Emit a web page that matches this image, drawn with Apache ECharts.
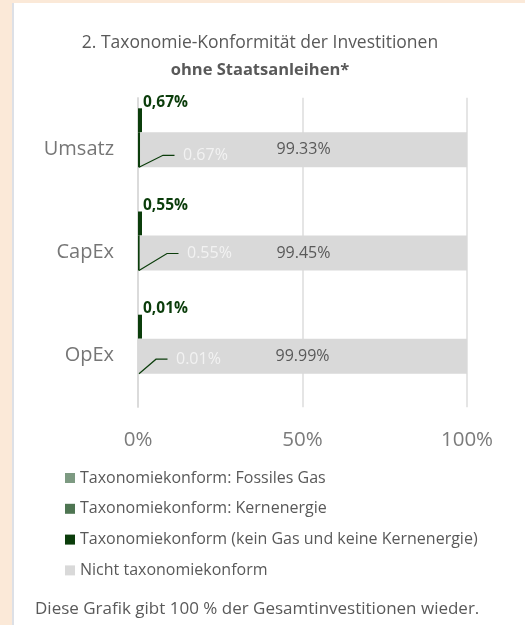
<!DOCTYPE html>
<html>
<head>
<meta charset="utf-8">
<title>Taxonomie-Konformität der Investitionen</title>
<script src="https://cdn.jsdelivr.net/npm/echarts@6/dist/echarts.min.js"></script>
<style>
  html, body { margin: 0; padding: 0; background: #fbe9d8; }
  #panel {
    position: absolute; left: 12px; top: 3px; width: 513px; height: 622px;
    background: #fff; border-left: 2px solid #dde0e6; box-sizing: border-box;
  }
  #chart { position: absolute; left: 0; top: 0; width: 525px; height: 625px; }
</style>
</head>
<body>
<div id="panel"></div>
<div id="chart"></div>
<script>
var categories = ['Umsatz', 'CapEx', 'OpEx'];
var fossilGas = [0, 0, 0];
var nuclear = [0, 0, 0];
var aligned = [0.67, 0.55, 0.01];
var notAligned = [99.33, 99.45, 99.99];
var seriesNames = [
  'Taxonomiekonform: Fossiles Gas',
  'Taxonomiekonform: Kernenergie',
  'Taxonomiekonform (kein Gas und keine Kernenergie)',
  'Nicht taxonomiekonform'
];

// hand placed leader labels in the grey bars: [dx from 0%, dy from bar centre]
var leaderShift = [[45, 6], [49, 1], [38, 3.5]];

var font = '"Open Sans", "Noto Sans", sans-serif';
var grey = '#595959';
var dark = '#0b3d0b';

function pct(v) {
  return v.toFixed(2) + '%';
}

var chart = echarts.init(document.getElementById('chart'));

var option = {
  animation: false,
  textStyle: { fontFamily: font },
  title: [{
    text: '{a|2. Taxonomie-Konformität der Investitionen}\n{b|ohne Staatsanleihen*}',
    left: 260,
    top: 29.5,
    padding: 0,
    textAlign: 'center',
    textStyle: {
      fontWeight: 'normal',
      rich: {
        a: { fontFamily: font, fontSize: 17.5, fontWeight: 'normal', color: grey, lineHeight: 27 },
        b: { fontFamily: font, fontSize: 16.5, fontWeight: 'bold', color: grey, lineHeight: 27 }
      }
    }
  }, {
    text: 'Diese Grafik gibt 100 % der Gesamtinvestitionen wieder.',
    left: 35,
    top: 599,
    padding: 0,
    textStyle: { fontFamily: font, fontSize: 17, fontWeight: 'normal', color: grey, lineHeight: 20 }
  }],
  legend: {
    orient: 'vertical',
    left: 65,
    top: 468,
    padding: 0,
    itemWidth: 10,
    itemHeight: 10,
    itemGap: 10.8,
    icon: 'rect',
    selectedMode: false,
    data: seriesNames,
    textStyle: { fontFamily: font, fontSize: 16, color: grey, lineHeight: 20 }
  },
  grid: { left: 138, right: 58, top: 97.7, bottom: 217.7 },
  xAxis: {
    type: 'value',
    min: 0,
    max: 100,
    interval: 50,
    axisLine: { show: false },
    axisTick: { show: false },
    axisLabel: { formatter: '{value}%', fontSize: 20.5, color: '#7b7b7b', margin: 22 },
    splitLine: { lineStyle: { color: '#dcdcdc', width: 1.5 } }
  },
  yAxis: {
    type: 'category',
    inverse: true,
    data: categories,
    axisLine: { lineStyle: { color: '#d9d9d9', width: 1.5 } },
    axisTick: { length: 7, lineStyle: { color: '#d9d9d9', width: 1.5 } },
    axisLabel: { fontSize: 20, color: '#767676', margin: 24 }
  },
  series: [{
    // bold highlight bar above the grey bar
    name: seriesNames[2],
    type: 'bar',
    stack: 'top',
    barWidth: 24,
    barGap: '0%',
    barMinHeight: 4,
    itemStyle: { color: dark },
    label: {
      show: true,
      position: [5, -6],
      align: 'left',
      verticalAlign: 'middle',
      fontSize: 15.5,
      fontWeight: 'bold',
      color: dark,
      formatter: function (p) { return pct(p.value).replace('.', ','); }
    },
    data: aligned
  }, {
    name: seriesNames[0],
    type: 'bar',
    stack: 'total',
    barWidth: 35,
    barGap: '0%',
    itemStyle: { color: '#7d9a82' },
    data: fossilGas
  }, {
    name: seriesNames[1],
    type: 'bar',
    stack: 'total',
    barWidth: 35,
    barGap: '0%',
    itemStyle: { color: '#4e7552' },
    data: nuclear
  }, {
    name: seriesNames[2],
    type: 'bar',
    stack: 'total',
    barWidth: 35,
    barGap: '0%',
    itemStyle: { color: dark },
    data: aligned
  }, {
    name: seriesNames[3],
    type: 'bar',
    stack: 'total',
    barWidth: 35,
    barGap: '0%',
    itemStyle: { color: '#d9d9d9' },
    label: {
      show: true,
      position: 'inside',
      fontSize: 16,
      color: grey,
      formatter: function (p) { return pct(p.value); }
    },
    data: notAligned
  }, {
    // empty slot under the grey bar, keeps the pair where Excel put it
    name: 'pad',
    type: 'bar',
    stack: 'pad',
    barWidth: 23,
    barGap: '0%',
    silent: true,
    data: ['-', '-', '-']
  }, {
    name: 'leader',
    type: 'custom',
    clip: false,
    z: 5,
    renderItem: function (params, api) {
      var p = api.coord([0, api.value(1)]);
      var s = leaderShift[params.dataIndex];
      var x0 = p[0];
      var yb = p[1] + 18;
      var yl = p[1] + s[1];
      return {
        type: 'group',
        children: [{
          type: 'polyline',
          shape: { points: [[x0 + 1, yb], [x0 + s[0] - 20, yl], [x0 + s[0] - 8.5, yl]] },
          style: { stroke: dark, lineWidth: 1.2, fill: null }
        }, {
          type: 'text',
          x: x0 + s[0],
          y: yl,
          style: {
            text: pct(api.value(0)),
            fill: '#f2f2f2',
            fontSize: 16,
            fontFamily: font,
            align: 'left',
            verticalAlign: 'middle'
          }
        }]
      };
    },
    data: categories.map(function (c, i) { return [aligned[i], i]; })
  }]
};

chart.setOption(option);
</script>
</body>
</html>
